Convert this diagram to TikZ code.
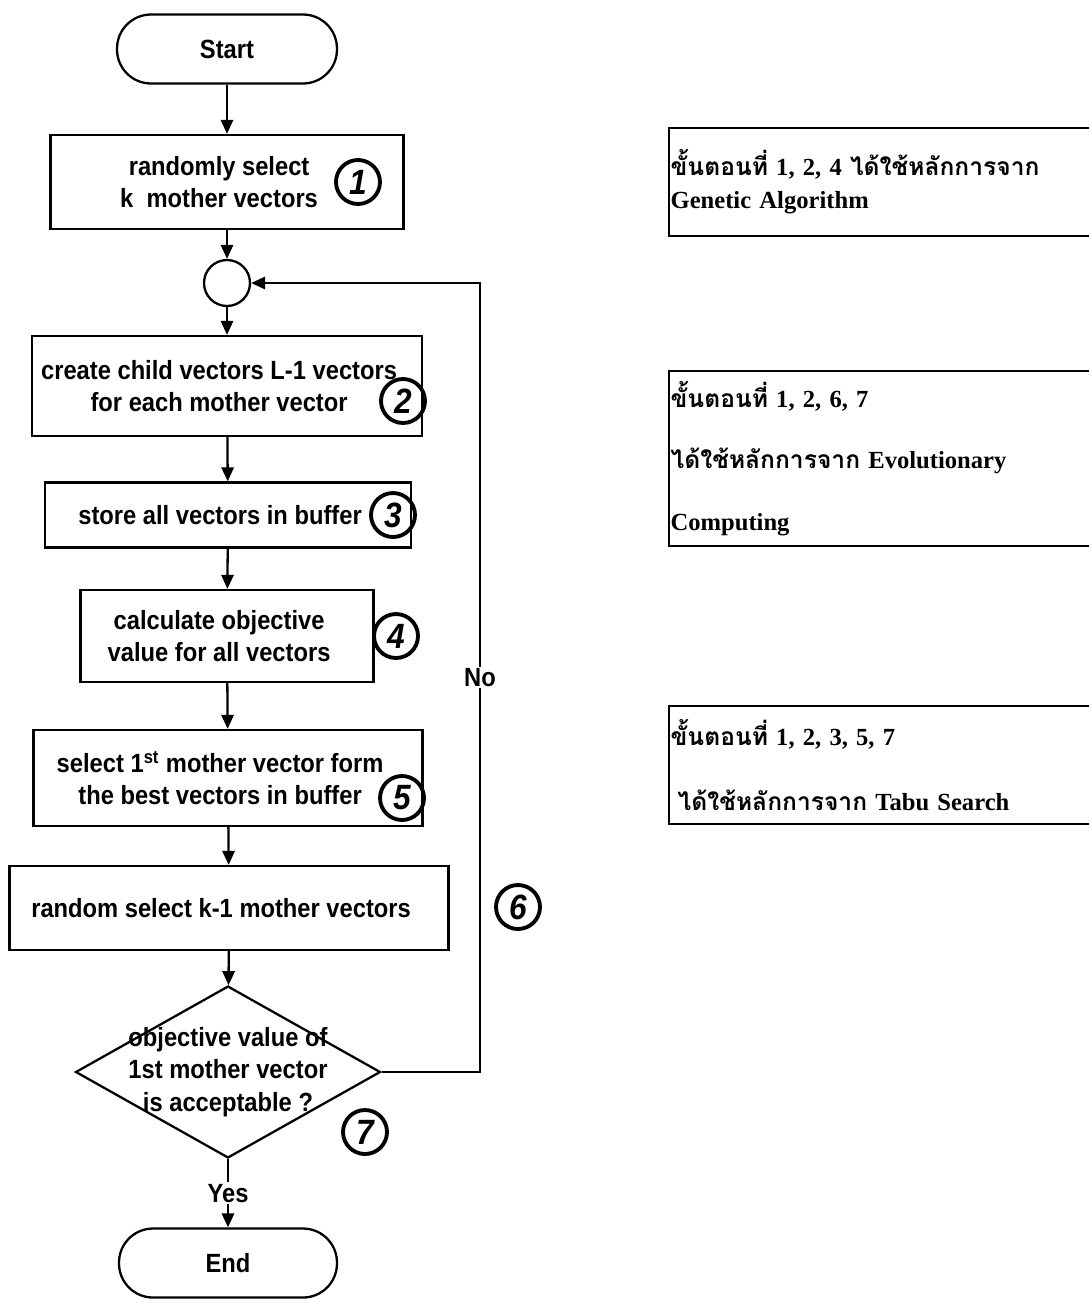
\documentclass[tikz,border=0pt]{standalone}
\usepackage{fontspec}
\setmainfont{Liberation Serif}
\newfontfamily\flowfont[FakeStretch=0.9]{Liberation Sans}
\newfontfamily\thaifont[Script=Thai]{Loma}
\usetikzlibrary{shapes.geometric,arrows.meta}

\tikzset{
    flowtext/.style={font=\flowfont\bfseries\fontsize{15}{18.5}\selectfont, align=center},
    procbox/.style={draw, flowtext, line width=1.3pt, shape=rectangle, inner sep=0pt},
    terminal/.style={draw, flowtext, line width=1.3pt, rounded corners=0.68cm, minimum width=4.4cm, minimum height=1.38cm},
    junction/.style={draw, circle, line width=1.3pt, minimum size=0.92cm, inner sep=0pt},
    decision/.style={draw, diamond, line width=1.3pt, minimum width=6.1cm, minimum height=3.44cm, inner sep=0pt},
    stepnum/.style={draw, circle, line width=2.2pt, minimum size=0.88cm, inner sep=0pt, font=\flowfont\bfseries\itshape\fontsize{20}{20}\selectfont},
    flow/.style={line width=1.3pt, -{Triangle[length=8pt,width=7pt]}},
    notebox/.style={draw, line width=1pt, anchor=north west, align=left, text width=8.5cm, inner xsep=1pt, font=\bfseries\fontsize{14}{19}\selectfont}
}

\begin{document}
\begin{tikzpicture}[x=0.02cm, y=-0.02cm]
    \useasboundingbox (0,0) rectangle (1089,1303);
    \def\px{0.02cm}
    \def\rpad{\hspace*{9pt}}

    \node[terminal] (start) at (227,49) {Start};
    \node[procbox, minimum width=353*\px, minimum height=94*\px] (s1) at (227,182) {randomly select\rpad\\k\ \ mother vectors\rpad};
    \node[junction] (junc) at (227,283) {};
    \node[procbox, minimum width=390*\px, minimum height=100*\px] (s2) at (227,386) {create child vectors L-1 vectors\rpad\\for each mother vector\rpad};
    \node[procbox, minimum width=366*\px, minimum height=65*\px] (s3) at (228,515) {store all vectors in buffer\rpad};
    \node[procbox, minimum width=293*\px, minimum height=92*\px] (s4) at (227,636) {calculate objective\rpad\\value for all vectors\rpad};
    \node[procbox, minimum width=389*\px, minimum height=96*\px] (s5) at (228,778) {select 1\textsuperscript{st} mother vector form\rpad\\the best vectors in buffer\rpad};
    \node[procbox, minimum width=439*\px, minimum height=84*\px] (s6) at (229,908) {random select k-1 mother vectors\rpad};
    \node[decision] (dec) at (228,1072) {};
    \node[flowtext] (dectext) at (dec) {objective value of\\1st mother vector\\is acceptable ?};
    \node[terminal, minimum width=4.36cm] (end) at (228,1263) {End};

    \node[stepnum] (n1) at (358,182) {1};
    \node[stepnum] (n2) at (403,401) {2};
    \node[stepnum] (n3) at (393,515) {3};
    \node[stepnum] (n4) at (396,636) {4};
    \node[stepnum] (n5) at (402,798) {5};
    \node[stepnum] (n6) at (518,907) {6};
    \node[stepnum] (n7) at (365,1132) {7};

    \draw[flow] (start) -- (s1);
    \draw[flow] (s1) -- (junc);
    \draw[flow] (junc) -- (s2);
    \draw[flow] (s2) -- (s3);
    \draw[flow] (s3) -- (s4);
    \draw[flow] (s4) -- (s5);
    \draw[flow] (s5) -- (s6);
    \draw[flow] (s6) -- (dec);
    \draw[flow] (dec) -- node[flowtext, fill=white, inner sep=1pt] (yes) {Yes} (end);
    \coordinate (back) at (480,1072);
    \draw[flow] (dec.east) -- (back) |- node[flowtext, fill=white, inner sep=1pt, pos=0.25] (no) {No} (junc.east);

    \node[notebox, minimum height=108*\px] (ga) at (668,127) {{\thaifont ขั้นตอนที่} 1, 2, 4 {\thaifont ได้ใช้หลักการจาก}\\Genetic Algorithm};
    \node[notebox, minimum height=175*\px, font=\bfseries\fontsize{14}{35}\selectfont] (ec) at (668,370) {{\thaifont ขั้นตอนที่} 1, 2, 6, 7\\{\thaifont ได้ใช้หลักการจาก} Evolutionary\\Computing};
    \node[notebox, minimum height=118*\px, font=\bfseries\fontsize{14}{37}\selectfont] (ts) at (668,705) {{\thaifont ขั้นตอนที่} 1, 2, 3, 5, 7\\\hspace*{4pt}{\thaifont ได้ใช้หลักการจาก} Tabu Search};
\end{tikzpicture}
\end{document}
